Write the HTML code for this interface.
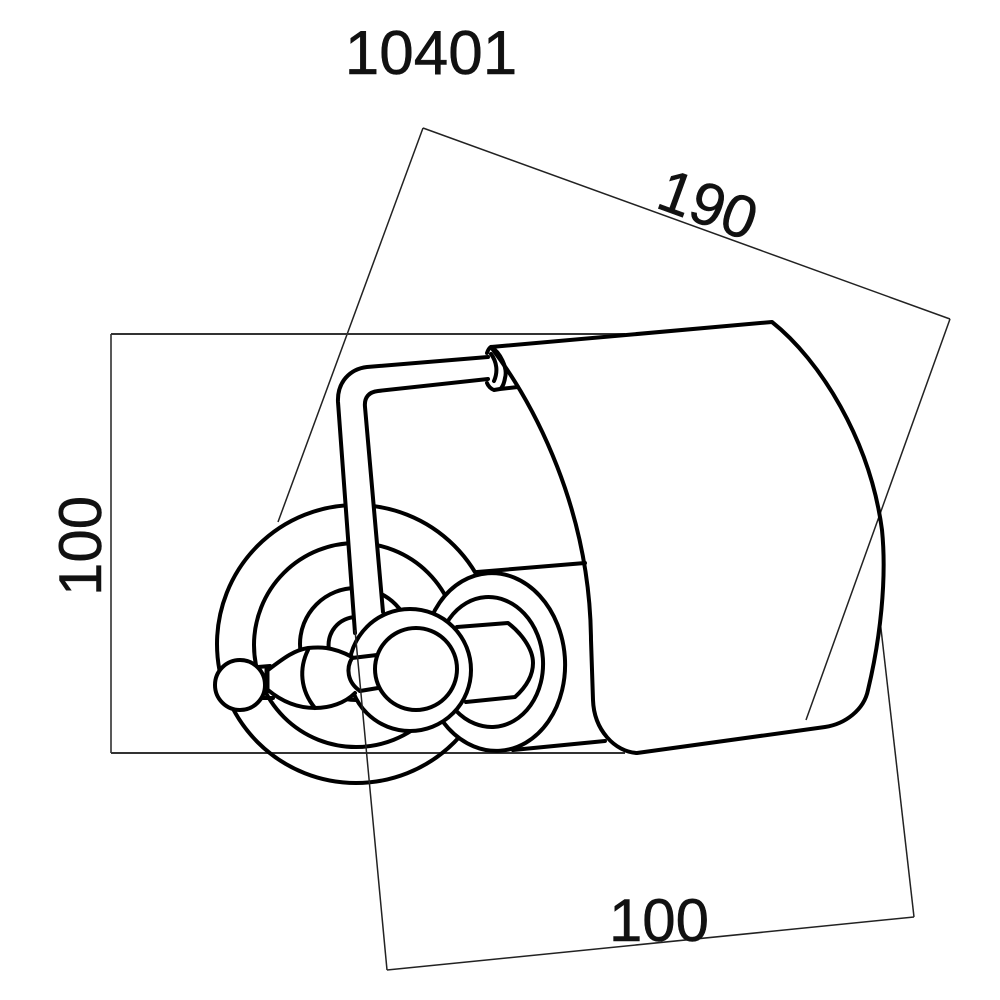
<!DOCTYPE html>
<html>
<head>
<meta charset="utf-8">
<style>
html,body{margin:0;padding:0;background:#fff}
svg{display:block}
text{font-family:"Liberation Sans",sans-serif;fill:#111;stroke:#111;stroke-width:.5;text-anchor:middle}
</style>
</head>
<body>
<svg width="1000" height="1000" viewBox="0 0 1000 1000" xmlns="http://www.w3.org/2000/svg">
<rect width="1000" height="1000" fill="#fff"/>

<g fill="none" stroke="#222" stroke-width="1.5">
  <path d="M423 128L950 319"/>
  <path d="M423 128L278 522"/>
  <path d="M950 319L806 720"/>
  <path d="M111 334V753"/>
  <path d="M111 334H625" stroke="#333" stroke-width="2"/>
  <path d="M111 753H625" stroke="#333" stroke-width="2"/>
  <path d="M387 970L914 917"/>
  <path d="M880 620L914 917"/>
</g>

<g fill="none" stroke="#000" stroke-width="4" stroke-linecap="round" stroke-linejoin="round">
  <!-- cover -->
  <path d="M491 347L772 322C820 360 870 440 882 530C887 580 880 640 868 690C864 710 845 724 825 727L637 753C615 752 594 730 593 700L591 640C590 510 535 405 491 347"/>
  <path d="M477 572L585 563"/>
  <path d="M513 750L605 741"/>

  <!-- wall plate circles -->
  <circle cx="356" cy="644" r="139"/>
  <circle cx="356" cy="645" r="102"/>
  <circle cx="356" cy="644" r="56"/>
  <path d="M329 650A28 28 0 0 1 356 617"/>

  <!-- post: white fill hides rings -->
  <path fill="#fff" d="M355 634L338 402C337 382 350 369 367 367L490 357V379L378 391C369 392 364 397 365 407L384 612Z" stroke="none"/>
  <path d="M355 633L338 402C337 382 350 369 367 367L488 357"/>
  <path d="M383 612L365 407C364 397 369 392 378 391L488 379"/>

  <!-- collar -->
  <path d="M487 353C488 350 489 348 491 347C500 352 508 368 505 378C504 384 502 388 500 389L494 390C491 389 488 386 487 383"/>
  <path d="M491 354C497 362 498 372 494 381"/>
  <path d="M500 389L518 387"/>

  <!-- outer ring right -->
  <ellipse cx="494" cy="662" rx="71" ry="89" fill="#fff" transform="rotate(-4 494 662)"/>
  <ellipse cx="490" cy="662" rx="53" ry="65" transform="rotate(-4 490 662)"/>
  <path fill="#fff" d="M457 627L508 623C520 632 533 648 533 663C533 677 525 688 515 697L466 702Z" stroke="none"/>
  <path d="M457 627L508 623C520 632 533 648 533 663C533 677 525 688 515 697L466 702"/>

  <!-- big round on post -->
  <circle cx="410" cy="670" r="61" fill="#fff"/>

  <!-- handle -->
  <path fill="#fff" stroke="none" d="M268 670C285 657 295 650 308 648H332L352 657L377 655V688L360 691L355 693C345 703 330 708 315 708C295 708 280 700 268 690Z"/>
  <path d="M268 670C285 657 295 650 308 648C318 647 332 646 352 657"/>
  <path d="M268 690C280 700 295 708 315 708C330 708 345 703 355 693"/>
  <path d="M267 669V691" stroke-width="5"/>
  <path d="M308 650C299 668 300 690 315 708"/>
  <path d="M352 658C346 668 347 682 360 691"/>
  <path d="M352 658L377 655M360 691L378 688"/>
  <path d="M258 667L270 666M263 698L273 698"/>

  <!-- inner knob -->
  <circle cx="416" cy="669" r="41" fill="#fff"/>

  <!-- small ball -->
  <circle cx="240" cy="685" r="25" fill="#fff"/>
</g>
<path d="M355 630L387 970" fill="none" stroke="#222" stroke-width="1.5"/>

<text x="431" y="74" font-size="62">10401</text>
<text x="0" y="0" font-size="60" transform="translate(701 224) rotate(20)">190</text>
<text x="0" y="0" font-size="60" transform="translate(101 546) rotate(-90)">100</text>
<text x="659" y="941" font-size="60">100</text>
</svg>
</body>
</html>
